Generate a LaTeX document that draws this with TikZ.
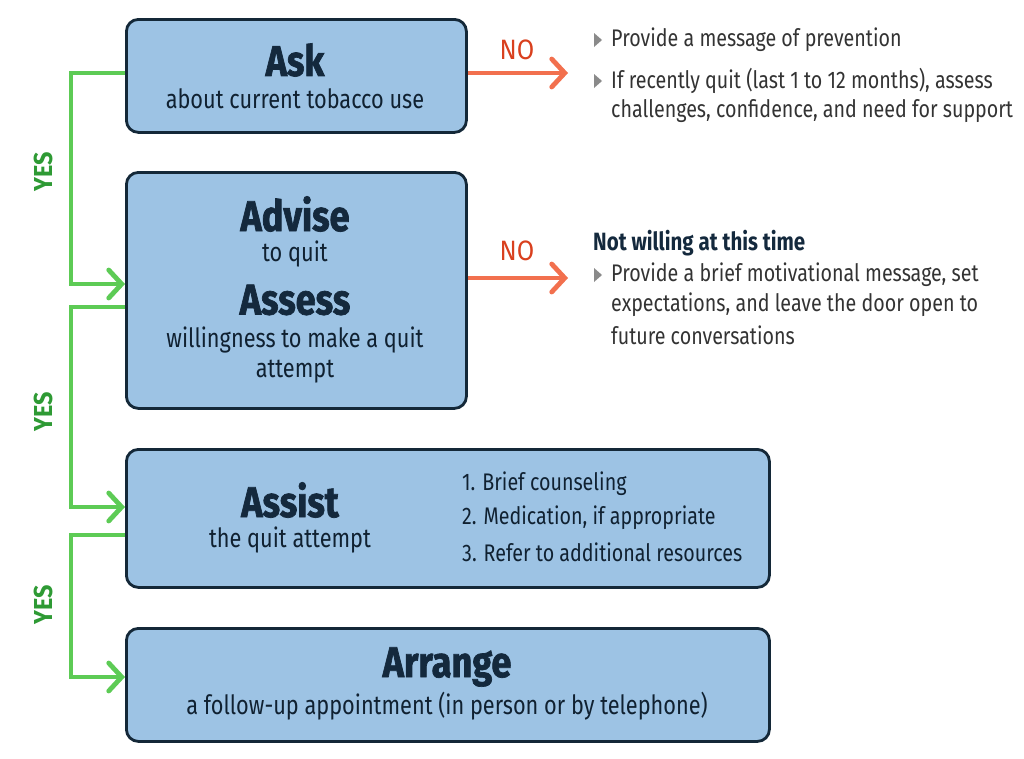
\documentclass[tikz,border=0pt]{standalone}
\usepackage{fontspec}
\setmainfont{Fira Sans}[FakeStretch=0.82]
\newfontfamily\titlefont{Fira Sans}[FakeStretch=0.84,BoldFeatures={FakeBold=1.6}]
\newfontfamily\labfont{Fira Sans}[FakeStretch=0.9]
\usetikzlibrary{arrows.meta}
\definecolor{boxfill}{HTML}{9DC3E4}
\definecolor{boxline}{HTML}{142838}
\definecolor{navy}{HTML}{14293D}
\definecolor{yesline}{HTML}{5DCB55}
\definecolor{yestext}{HTML}{2E9A34}
\definecolor{noline}{HTML}{F2704E}
\definecolor{notext}{HTML}{D9401E}
\definecolor{bodytext}{HTML}{333333}
\definecolor{bullet}{HTML}{8A8A8A}
\tikzset{
  stepbox/.style={draw=boxline, line width=2.8pt, fill=boxfill, rounded corners=12pt},
  title/.style={font=\titlefont\bfseries\fontsize{43}{46}\selectfont, text=navy, inner sep=0pt},
  sub/.style={font=\fontsize{26.5}{30}\selectfont, text=navy!80!black, inner sep=0pt, align=center},
  lst/.style={font=\fontsize{24}{30}\selectfont, text=navy!80!black, inner sep=0pt, anchor=west},
  chev/.style={-{Straight Barb[length=13pt,width=28pt,line width=4.8pt,line cap=round]}},
  yesarrow/.style={draw=yesline, line width=4.8pt, chev},
  noarrow/.style={draw=noline, line width=4.8pt, chev},
  yeslab/.style={font=\labfont\bfseries\fontsize{26}{28}\selectfont, text=yestext, rotate=90, inner sep=0pt},
  nolab/.style={font=\labfont\fontsize{28}{30}\selectfont, text=notext, inner sep=0pt},
  rtext/.style={font=\fontsize{24}{30}\selectfont, text=bodytext, inner sep=0pt, anchor=west}
}
\begin{document}
\begin{tikzpicture}[x=1pt,y=-1pt]
\useasboundingbox (0,0) rectangle (1024,758);
% boxes
\node[stepbox, minimum width=340pt, minimum height=113pt, anchor=north west] (ask) at (125,18) {};
\node[stepbox, minimum width=340pt, minimum height=236pt, anchor=north west] (adv) at (125,171) {};
\node[stepbox, minimum width=643pt, minimum height=138pt, anchor=north west] (asst) at (125,448) {};
\node[stepbox, minimum width=643pt, minimum height=113pt, anchor=north west] (arr) at (125,627) {};
% box texts
\node[title] (t1) at (295,60) {Ask};
\node[sub] (s1) at (295,99) {about current tobacco use};
\node[title] (t2) at (295,214) {Advise};
\node[sub] (s2) at (295,254) {to quit};
\node[title] (t3) at (295,300) {Assess};
\node[sub] (s3) at (295,340) {willingness to make a quit};
\node[sub] (s3b) at (295,372) {attempt};
\node[title] (t4) at (290,500) {Assist};
\node[sub] (s4) at (290,540) {the quit attempt};
\node[lst] (l1) at (462,484) {1. Brief counseling};
\node[lst] (l2) at (462,518) {2. Medication, if appropriate};
\node[lst] (l3) at (462,552) {3. Refer to additional resources};
\node[title] (t5) at (447,667) {Arrange};
\node[sub] (s5) at (447,706) {a follow-up appointment (in person or by telephone)};
% yes connectors
\draw[yesarrow] (ask.west |- 0,73) -| (71,200) |- (adv.west |- 0,284);
\draw[yesarrow] (adv.west |- 0,307) -| (71,400) |- (asst.west |- 0,507);
\draw[yesarrow] (asst.west |- 0,535) -| (71,600) |- (arr.west |- 0,677);
\node[yeslab] (y1) at (43,172) {YES};
\node[yeslab] (y2) at (43,412) {YES};
\node[yeslab] (y3) at (43,605) {YES};
% no connectors
\coordinate (n1e) at (568,73);
\coordinate (n2e) at (568,278);
\draw[noarrow] (ask.east |- n1e) -- (n1e);
\draw[noarrow] (adv.east |- n2e) -- (n2e);
\node[nolab] (no1) at (517,50) {NO};
\node[nolab] (no2) at (517,251) {NO};
% right texts
\fill[bullet] (594,33) -- (602,40) -- (594,47) -- cycle;
\node[rtext] (r1) at (611,40) {Provide a message of prevention};
\fill[bullet] (594,74) -- (602,81) -- (594,88) -- cycle;
\node[rtext] (r2) at (611,81) {If recently quit (last 1 to 12 months), assess};
\node[rtext] (r3) at (611,111) {challenges, confidence, and need for support};
\node[rtext, font=\bfseries\fontsize{25}{30}\selectfont, text=navy] (r4) at (593,243) {Not willing at this time};
\fill[bullet] (594,268) -- (602,275) -- (594,282) -- cycle;
\node[rtext] (r5) at (611,275) {Provide a brief motivational message, set};
\node[rtext] (r6) at (611,305) {expectations, and leave the door open to};
\node[rtext] (r7) at (611,335) {future conversations};
\end{tikzpicture}
\end{document}
